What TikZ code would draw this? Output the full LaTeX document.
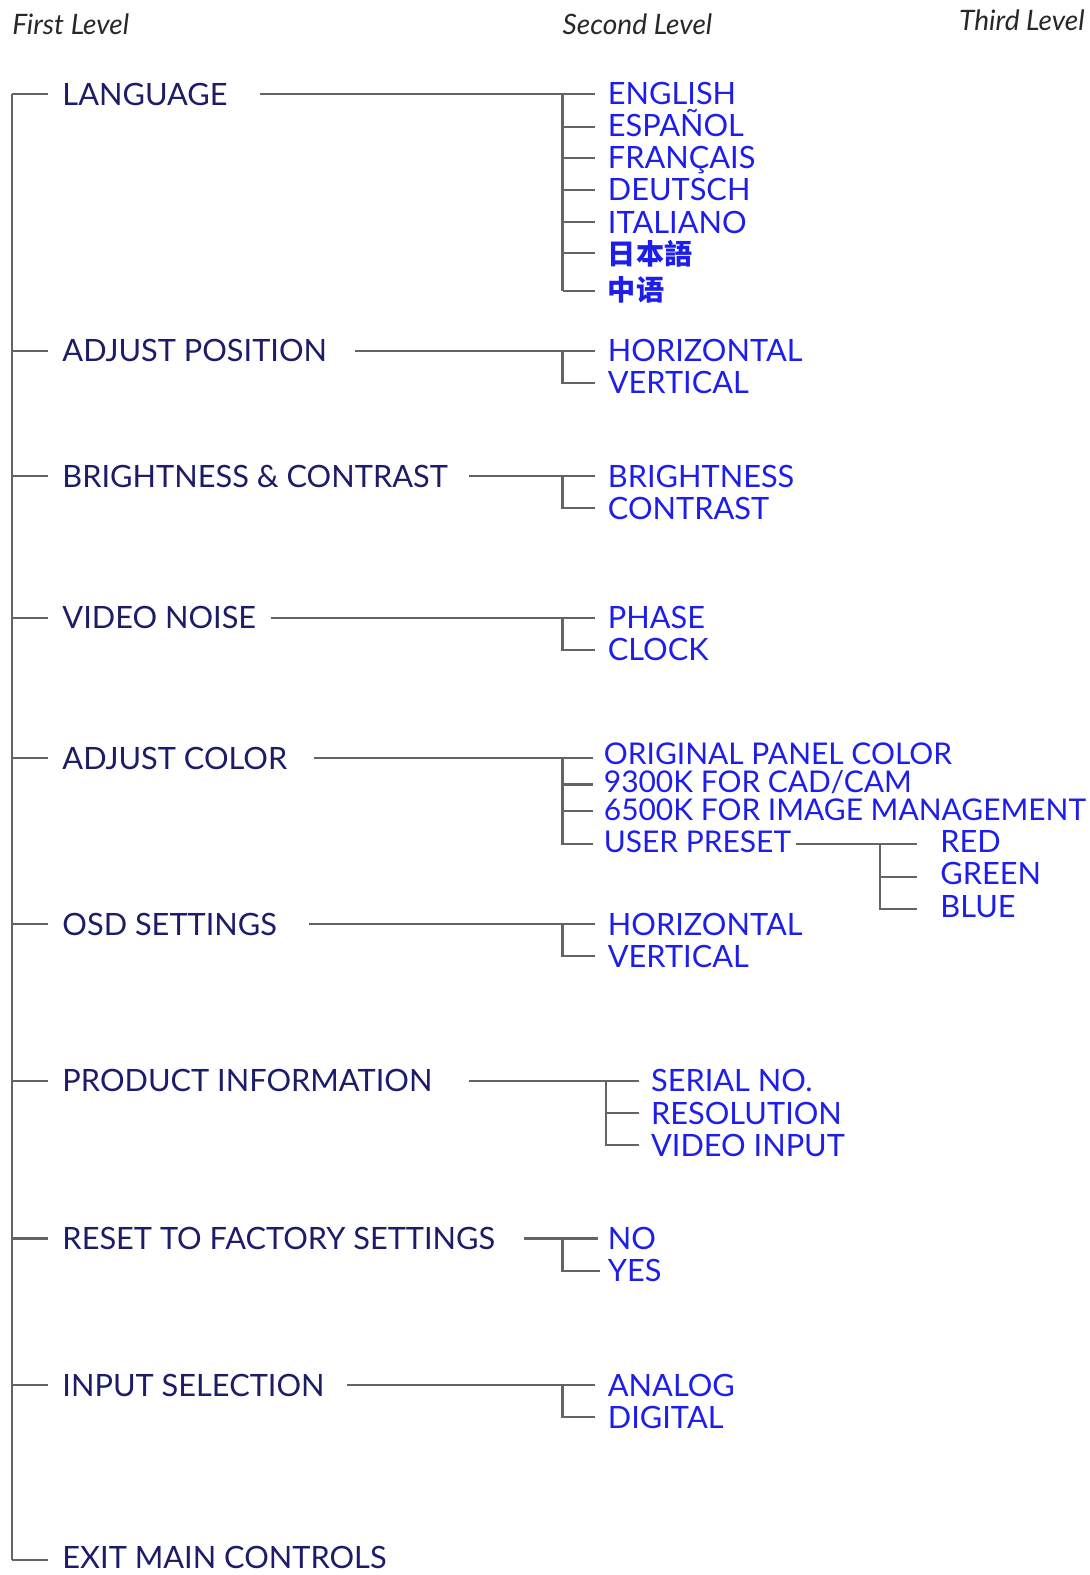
\documentclass[tikz,border=0pt]{standalone}
\usepackage{fontspec}
\setmainfont{Lato}
\newfontfamily\cjkfont{Noto Sans CJK SC}
\definecolor{navy}{RGB}{28,28,105}
\definecolor{menublue}{RGB}{30,30,235}
\definecolor{linegray}{RGB}{100,100,100}
\definecolor{headgray}{RGB}{40,40,40}
\tikzset{
  lone/.style={anchor=base west,inner sep=0pt,text=navy,font=\fontsize{30.6}{30}\selectfont},
  ltwo/.style={anchor=base west,inner sep=0pt,text=menublue,font=\fontsize{30.6}{30}\selectfont},
  lcol/.style={anchor=base west,inner sep=0pt,text=menublue,font=\fontsize{29.8}{29}\selectfont},
  lcjk/.style={anchor=base west,inner sep=0pt,text=menublue,font=\cjkfont\bfseries\fontsize{28}{28}\selectfont},
  head/.style={anchor=base west,inner sep=0pt,text=headgray,font=\itshape\fontsize{28}{28}\selectfont},
  conn/.style={draw=linegray,line width=2.1pt},
}
\begin{document}
\begin{tikzpicture}[x=1pt,y=-1pt]
\useasboundingbox (0,0) rectangle (1085,1568);
% headers
\node[head] (h1) at (12,34) {First Level};
\node[head] (h2) at (560,34) {Second Level};
\node[head,anchor=base east] (h3) at (1080,30) {Third Level};

% main trunk
\coordinate (top) at (12,94);
\coordinate (bot) at (12,1553);
\draw[conn] (top) -- (bot);

% ---------- LANGUAGE
\coordinate (t1) at (48,94);
\draw[conn] (top) -- (t1);
\node[lone] (lang) at (62,105) {LANGUAGE};
\coordinate (langS) at (259,94);
\coordinate (langB) at (560,94);
\coordinate (langE) at (592,94);
\coordinate (langL) at (560,290);
\draw[conn] (langS) -- (langE);
\draw[conn] (langB) -- (langL);
\node[ltwo] (en) at (605,104) {ENGLISH};
\node[ltwo] (es) at (605,136) {ESPAÑOL};
\node[ltwo] (fr) at (605,168) {FRANÇAIS};
\node[ltwo] (de) at (605,200) {DEUTSCH};
\node[ltwo] (it) at (605,232) {ITALIANO};
\node[lcjk] (ja) at (605,263) {日本語};
\node[lcjk] (zh) at (605,299) {中语};
\foreach \yy in {126,157,189,221,252,290} \draw[conn] (560,\yy) -- (592,\yy);

% ---------- ADJUST POSITION
\coordinate (t2) at (48,349);
\draw[conn] (12,349) -- (t2);
\node[lone] (adjpos) at (62,360) {ADJUST POSITION};
\coordinate (apS) at (353,349);
\coordinate (apE) at (592,349);
\draw[conn] (apS) -- (apE);
\draw[conn] (560,349) -- (560,381) -- (592,381);
\node[ltwo] (aph) at (605,360) {HORIZONTAL};
\node[ltwo] (apv) at (605,392) {VERTICAL};

% ---------- BRIGHTNESS & CONTRAST
\coordinate (t3) at (48,474);
\draw[conn] (12,474) -- (t3);
\node[lone] (bc) at (62,485) {BRIGHTNESS \& CONTRAST};
\coordinate (bcS) at (467,474);
\coordinate (bcE) at (592,474);
\draw[conn] (bcS) -- (bcE);
\draw[conn] (560,474) -- (560,506) -- (592,506);
\node[ltwo] (bcb) at (605,485) {BRIGHTNESS};
\node[ltwo] (bcc) at (605,517) {CONTRAST};

% ---------- VIDEO NOISE
\coordinate (t4) at (48,615);
\draw[conn] (12,615) -- (t4);
\node[lone] (vn) at (62,626) {VIDEO NOISE};
\coordinate (vnS) at (270,615);
\coordinate (vnE) at (592,615);
\draw[conn] (vnS) -- (vnE);
\draw[conn] (560,615) -- (560,647) -- (592,647);
\node[ltwo] (vnp) at (605,626) {PHASE};
\node[ltwo] (vnc) at (605,658) {CLOCK};

% ---------- ADJUST COLOR
\coordinate (t5) at (48,755);
\draw[conn] (12,755) -- (t5);
\node[lone] (ac) at (62,766) {ADJUST COLOR};
\coordinate (acS) at (313,755);
\coordinate (acE) at (590,755);
\draw[conn] (acS) -- (acE);
\draw[conn] (560,755) -- (560,840) -- (590,840);
\draw[conn] (560,781) -- (590,781);
\draw[conn] (560,807) -- (590,807);
\node[lcol] (aco) at (601,761) {ORIGINAL PANEL COLOR};
\node[lcol] (ac9) at (601,789) {9300K FOR CAD/CAM};
\node[lcol] (ac6) at (601,817) {6500K FOR IMAGE MANAGEMENT};
\node[lcol] (acu) at (601,849) {USER PRESET};
\coordinate (upS) at (792,840);
\coordinate (upE) at (913,840);
\draw[conn] (upS) -- (upE);
\draw[conn] (876,840) -- (876,905) -- (913,905);
\draw[conn] (876,873) -- (913,873);
\node[ltwo] (red) at (936,849) {RED};
\node[ltwo] (green) at (936,881) {GREEN};
\node[ltwo] (blue) at (936,913) {BLUE};

% ---------- OSD SETTINGS
\coordinate (t6) at (48,920);
\draw[conn] (12,920) -- (t6);
\node[lone] (osd) at (62,931) {OSD SETTINGS};
\coordinate (osS) at (308,920);
\coordinate (osE) at (592,920);
\draw[conn] (osS) -- (osE);
\draw[conn] (560,920) -- (560,952) -- (592,952);
\node[ltwo] (osh) at (605,931) {HORIZONTAL};
\node[ltwo] (osv) at (605,963) {VERTICAL};

% ---------- PRODUCT INFORMATION
\coordinate (t7) at (48,1076);
\draw[conn] (12,1076) -- (t7);
\node[lone] (pi) at (62,1087) {PRODUCT INFORMATION};
\coordinate (piS) at (467,1076);
\coordinate (piE) at (636,1076);
\draw[conn] (piS) -- (piE);
\draw[conn] (603,1076) -- (603,1140) -- (636,1140);
\draw[conn] (603,1108) -- (636,1108);
\node[ltwo] (pis) at (648,1087) {SERIAL NO.};
\node[ltwo] (pir) at (648,1119) {RESOLUTION};
\node[ltwo] (piv) at (648,1151) {VIDEO INPUT};

% ---------- RESET
\coordinate (t8) at (48,1233);
\draw[conn] (12,1233) -- (t8);
\node[lone] (rs) at (62,1244) {RESET TO FACTORY SETTINGS};
\coordinate (rsS) at (522,1233);
\coordinate (rsE) at (595,1233);
\draw[conn] (rsS) -- (rsE);
\draw[conn] (560,1233) -- (560,1265) -- (597,1265);
\node[ltwo] (rsn) at (605,1244) {NO};
\node[ltwo] (rsy) at (605,1276) {YES};

% ---------- INPUT SELECTION
\coordinate (t9) at (48,1379);
\draw[conn] (12,1379) -- (t9);
\node[lone] (is) at (62,1390) {INPUT SELECTION};
\coordinate (isS) at (345,1379);
\coordinate (isE) at (592,1379);
\draw[conn] (isS) -- (isE);
\draw[conn] (560,1379) -- (560,1411) -- (592,1411);
\node[ltwo] (isa) at (605,1390) {ANALOG};
\node[ltwo] (isd) at (605,1422) {DIGITAL};

% ---------- EXIT
\coordinate (t10) at (48,1553);
\draw[conn] (bot) -- (t10);
\node[lone] (ex) at (62,1562) {EXIT MAIN CONTROLS};
\end{tikzpicture}
\end{document}
